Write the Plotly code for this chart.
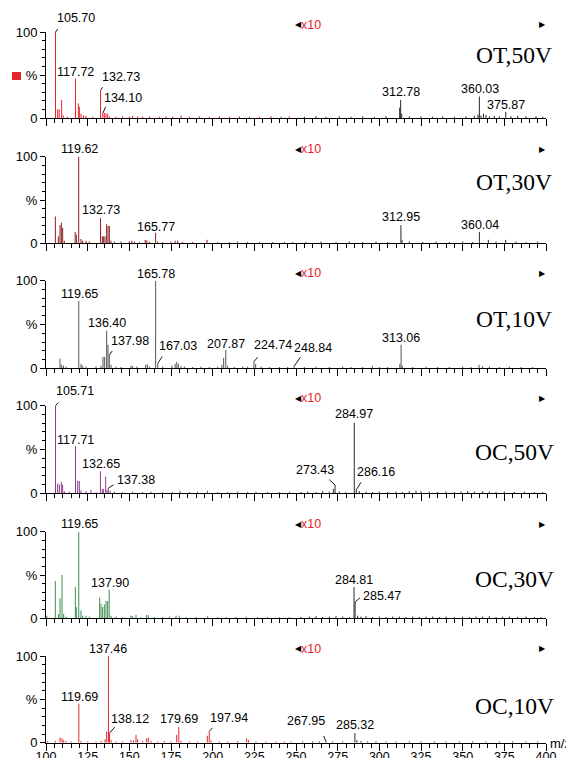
import plotly.graph_objects as go

# ---------------------------------------------------------------- data
panel_names = ["OT,50V", "OT,30V", "OT,10V", "OC,50V", "OC,30V", "OC,10V"]
magnify_from = 250          # m/z above which the trace is shown magnified
magnify_to = 400
magnify_label = "x10"
x_tick_values = [100, 125, 150, 175, 200, 225, 250, 275, 300, 325, 350, 375, 400]
x_tick_labels = [str(v) for v in x_tick_values]
y_tick_values = [0, 50, 100]
y_tick_labels = ["0", "%", "100"]
x_title = "m/z"

# OT,50V
ot50_mz = [105.70, 107.0, 107.9, 109.4, 110.3, 113, 117.72, 119.4, 120.0, 121.0, 122.5, 124.0, 128,
           132.73, 134.10, 135.0, 136.0, 137.0, 138.0, 142, 146, 150, 152, 155, 158, 162, 168, 172,
           176, 181, 186, 192, 198, 204, 210, 216, 222, 228, 235, 241, 246,
           255, 262, 268, 276, 283, 290, 297, 304, 312.2, 312.78, 313.4, 318, 325, 332, 338, 345,
           352, 357, 359.2, 360.03, 361, 362.5, 364, 366, 369, 372, 375.87, 379, 383, 388, 394, 398]
ot50_int = [100, 10, 10, 21, 3, 1.5, 46, 17, 13, 5, 3, 2.5, 1.5,
            32, 5.5, 6, 5.5, 5, 2, 1.5, 2, 2, 2.5, 2, 1.5, 2, 1.5, 2,
            1.5, 3, 1.5, 2, 1.5, 2, 1.5, 2, 1.5, 1.5, 2, 1.5, 2,
            1.5, 2, 1.5, 2, 1.5, 2, 1.5, 2, 12, 21, 5, 2, 2, 1.5, 2, 1.5,
            2, 2.5, 4, 25, 3, 5, 3.5, 2, 2.5, 2, 7, 2, 2.5, 2, 2, 1.5]
ot50_labels = ["105.70", "117.72", "132.73", "134.10", "312.78", "360.03", "375.87"]

# OT,30V
ot30_mz = [105.6, 107.4, 108.4, 109.2, 110.0, 111, 117.5, 118.2, 119.62, 121, 122, 124, 126,
           132.73, 133.8, 134.6, 135.4, 136.4, 137.2, 138.0, 139, 141, 145, 150, 151.5, 153, 156,
           159.5, 160.5, 162, 165.77, 167, 170, 175, 177.5, 179, 182, 188, 196.6, 203, 210, 215,
           221, 228, 236, 243, 248,
           256, 265, 274, 282, 290, 298, 305, 312.95, 313.6, 318, 326, 334, 342, 350, 356,
           360.04, 365.4, 370, 375.8, 382, 388, 395]
ot30_int = [31, 8, 21, 24, 18, 3, 13, 10, 100, 5, 3, 3, 2,
            29, 8, 8, 8, 22, 20, 20, 3, 2, 2, 2.5, 3, 2, 1.5,
            4, 3.5, 2, 12, 2, 1.5, 2, 3, 3, 1.5, 1.5, 4, 1.5, 1.5, 2,
            1.5, 1.5, 1.5, 1.5, 1.5,
            1.5, 2, 1.5, 2, 1.5, 2, 1.5, 21, 4, 2, 1.5, 2, 1.5, 2, 1.5,
            13, 4, 2, 4, 2, 1.5, 2]
ot30_labels = ["119.62", "132.73", "165.77", "312.95", "360.04"]

# OT,10V
ot10_mz = [108.4, 109.4, 110.5, 112, 119.65, 121, 122, 124, 130, 133, 134.2, 135.2, 136.40, 137.2,
           137.98, 139, 142, 145, 151, 152, 154.5, 159.8, 160.8, 162, 165.78, 167.03, 170, 175.5,
           177.5, 178.5, 179.4, 181, 183, 188, 193, 198, 203, 205.5, 206.6, 207.87, 209, 213, 218,
           221, 224.74, 225.8, 229, 234, 240, 245, 248.84,
           255, 262, 270, 278, 283, 290, 295.8, 300, 305, 312.3, 313.06, 313.8, 320, 328, 335,
           342, 350, 355, 359.8, 362, 366, 372, 378, 385, 392]
ot10_int = [11, 4, 3, 2, 77, 5, 3, 2, 2, 3, 13, 13, 43, 27,
            15, 4, 2, 1.5, 3, 2.5, 2, 4, 4.5, 2, 100, 5.7, 2, 3,
            5, 7.5, 5, 2.5, 2, 1.5, 2, 1.5, 2, 4, 12, 21, 3, 1.5, 2,
            2, 7.5, 5, 2, 1.5, 1.5, 1.5, 2.2,
            1.5, 2, 1.5, 2, 1.5, 1.5, 3, 1.5, 1.5, 5, 27, 3, 1.5, 2, 1.5,
            1.5, 2, 1.5, 4, 2.5, 2, 1.5, 2, 1.5, 1.5]
ot10_labels = ["119.65", "136.40", "137.98", "165.78", "167.03", "207.87", "224.74", "248.84",
               "313.06"]

# OC,50V
oc50_mz = [105.71, 107.0, 108.0, 109.2, 110.0, 111, 114, 117.71, 119.0, 120.0, 121, 124, 127, 130,
           132.65, 133.8, 134.4, 135.8, 136.6, 137.38, 138.5, 141, 146, 152, 158, 163, 170, 176,
           180.4, 186, 191, 196.8, 203, 209, 215, 221, 226, 233, 240, 246,
           253, 257, 262, 266, 270, 272.4, 273.43, 276, 280, 284.97, 286.16, 288, 292, 296, 300,
           305, 310, 314, 318, 322, 325, 330, 335, 340, 345, 349, 353, 357, 362, 366, 370, 375,
           381, 387, 393, 398]
oc50_int = [100, 11, 10, 13, 10, 2.5, 2, 54, 14, 14, 3, 2.5, 4, 1.5,
            25, 5, 5, 19, 4, 6, 3, 2, 1.5, 2, 1.5, 2, 1.5, 1.5,
            3, 1.5, 2, 3, 1.5, 1.5, 2, 1.5, 2, 1.5, 1.5, 2,
            1.5, 2, 1.5, 2.5, 2, 5, 9.5, 2, 1.5, 80.6, 4, 2.5, 2, 1.5, 2,
            1.5, 2, 1.5, 2.5, 3, 2.5, 2, 1.5, 2, 1.5, 2, 2.5, 2, 2.5, 2, 1.5, 2,
            1.5, 2, 1.5, 1.5]
oc50_labels = ["105.71", "117.71", "132.65", "137.38", "273.43", "284.97", "286.16"]

# OC,30V
oc30_mz = [100.5, 105.6, 107.4, 108.4, 109.6, 110.6, 112, 117.6, 118.2, 119.65, 121, 122, 124, 126,
           132.2, 133.0, 134.0, 135.0, 136.0, 137.0, 137.90, 139, 142, 146, 151, 152, 154, 157,
           160.4, 161.4, 165, 170, 174, 178, 180, 184, 190, 197, 203, 208, 214, 220, 227, 233,
           240, 246,
           253, 258, 262, 266, 270, 274, 278, 282, 284.81, 285.47, 287, 289, 292, 296, 300, 304,
           308, 312, 316, 320, 324, 328, 332, 336, 340, 345, 350, 354, 358, 362, 366, 370, 374,
           378, 383, 388, 393, 397]
oc30_int = [3, 43, 5, 23, 50, 5, 2, 36, 13, 100, 9, 3, 3, 2,
            24, 17, 13, 16, 20, 20, 33, 3, 2, 1.5, 3, 2.5, 4, 1.5,
            4, 3.5, 1.5, 1.5, 2, 3, 3, 1.5, 1.5, 2.5, 1.5, 1.5, 1.5, 2, 1.5, 1.5,
            1.5, 1.5,
            1.5, 2, 2.5, 1.5, 2, 2.5, 2, 1.5, 36, 19, 3, 2, 2.5, 1.5, 2, 1.5,
            2, 2, 1.5, 2, 1.5, 2, 2, 1.5, 2, 1.5, 2, 1.5, 2, 2, 2.5, 1.5, 2,
            2, 1.5, 2, 1.5, 1.5]
oc30_labels = ["119.65", "137.90", "284.81", "285.47"]

# OC,10V
oc10_mz = [101, 105.6, 108.4, 109.6, 110.6, 112, 115, 119.69, 121, 125, 130, 133, 135.4, 136.4,
           137.46, 138.12, 139, 142, 146, 151, 152.5, 154, 155, 158, 160.4, 161.4, 163, 167, 171,
           175, 178.4, 179.69, 181, 186, 191, 196.8, 197.94, 199, 204, 209, 215, 220.4, 221.5,
           226, 232, 238, 243, 247,
           254, 260, 264, 267.95, 272, 278, 285.32, 286.5, 289, 293, 298, 304, 310, 318, 325,
           333, 340, 348, 356, 364, 372, 380, 388, 395]
oc10_int = [2, 2, 6, 5, 3, 2, 1.5, 45, 2, 1.5, 1.5, 2, 4, 13,
            100, 11, 3, 1.5, 1.5, 3, 2.5, 9, 4, 2, 5, 6, 2, 1.5, 2,
            1.5, 9, 18, 2, 1.5, 1.5, 8, 13, 2.5, 1.5, 1.5, 2, 5, 3,
            1.5, 1.5, 1.5, 1.5, 1.5,
            1.5, 1.5, 1.5, 2, 1.5, 1.5, 11, 3, 2, 1.5, 1.5, 1.5, 1.5, 1.5, 1.5,
            1.5, 1.5, 1.5, 1.5, 1.5, 1.5, 1.5, 1.5, 1.5]
oc10_labels = ["137.46", "119.69", "138.12", "179.69", "197.94", "267.95", "285.32"]

panel_mz = [ot50_mz, ot30_mz, ot10_mz, oc50_mz, oc30_mz, oc10_mz]
panel_int = [ot50_int, ot30_int, ot10_int, oc50_int, oc30_int, oc10_int]
panel_labels = [ot50_labels, ot30_labels, ot10_labels, oc50_labels, oc30_labels, oc10_labels]

# ---------------------------------------------------------------- style
PAGE_W, PAGE_H = 574, 758
BODY = 8                      # default page margin around the plot div
W, H = PAGE_W - BODY, PAGE_H - BODY
ML = 46 - BODY                # plot area starts at page x = 46
MR = PAGE_W - 546             # and ends at page x = 546
SANS = "Liberation Sans, Arial, sans-serif"
SERIF = "Liberation Serif, Times New Roman, serif"
panel_colors = ["#e8242b", "#8a1e1e", "#555555", "#8e3b8e", "#3f8e50", "#e8242b"]
magnified_color = "#2b2b2b"
red = "#e8242b"
# page-pixel rows of the 100 % and 0 % levels of each panel
panel_top_px = [32, 156.7, 280.7, 405.7, 531.7, 656]
panel_bottom_px = [118, 243.3, 368.3, 493.3, 618.3, 742.7]
name_offset_px = [23, 25.3, 38.3, 46.3, 47.3, 50]
name_right_shift = [8, 8, 8, 10, 10, 10]

# label placement: text (xshift, yshift) relative to peak top, optional leader (dx, dy)
label_style = [
    {"105.70": (20, 4.9, (3.4, -4.4)), "117.72": (0, -2.5, None), "132.73": (20.5, 4.5, (3, -4.7)),
     "134.10": (19.7, 5.8, (3.5, -8)), "312.78": (0, -0.8, None), "360.03": (0.5, -1.1, None),
     "375.87": (0, -1.8, None)},
    {"119.62": (0.5, -1.8, None), "132.73": (0.5, -0.9, None), "165.77": (0, -2.8, None),
     "312.95": (0, -1.2, None), "360.04": (0.5, -1.8, None)},
    {"119.65": (0.5, -1.8, None), "136.40": (0.5, -1.8, None), "137.98": (20.4, 4.8, (4, -5.7)),
     "165.78": (0, -2.1, None), "167.03": (20.1, 8.1, (5.6, -8.3)), "207.87": (0, -3.5, None),
     "224.74": (19.4, 7.5, (5, -6)), "248.84": (19.2, 9.2, (7.4, -10.7)),
     "313.06": (0, -2.5, None)},
    {"105.71": (19.9, 5.5, (4, -4.7)), "117.71": (0, -3.2, None), "132.65": (0.5, -1.8, None),
     "137.38": (27.5, -0.9, (6.7, -4)), "273.43": (-19.6, 5.5, (-7.3, -6.7)),
     "284.97": (0, -0.8, None), "286.16": (19.9, 8.8, (5.7, -9))},
    {"119.65": (0.5, -1.1, None), "137.90": (1, -1.9, None), "284.81": (0, -1.9, None),
     "285.47": (26.7, -2.8, (6.3, -5))},
    {"137.46": (0, -1.5, None), "119.69": (0.5, -2.5, None), "138.12": (20.2, 5.5, (6.5, -7.6)),
     "179.69": (0.4, -1.2, None), "197.94": (19.3, 4.9, (4.6, -5)),
     "267.95": (-19.6, 10.8, (-3, -6.5)), "285.32": (0, -1.1, None)},
]

# ---------------------------------------------------------------- figure
fig = go.Figure()
annotations = []
shapes = []
layout = dict(
    width=W, height=H, margin=dict(l=ML, r=MR, t=0, b=0, pad=0, autoexpand=False),
    paper_bgcolor="white", plot_bgcolor="white", showlegend=False,
    font=dict(family=SANS, size=12.5, color="black"),
)


def stems(mz, inten, keep):
    xs, ys = [], []
    for m, v in zip(mz, inten):
        if keep(m):
            xs += [m, m, None]
            ys += [0, v, None]
    return xs, ys


for i in range(6):
    n = i + 1
    xa = "x" if n == 1 else f"x{n}"
    ya = "y" if n == 1 else f"y{n}"
    mz, inten = panel_mz[i], panel_int[i]

    xs, ys = stems(mz, inten, lambda m: m < magnify_from)
    fig.add_trace(go.Scatter(x=xs, y=ys, mode="lines", xaxis=xa, yaxis=ya, hoverinfo="skip",
                             line=dict(color=panel_colors[i], width=1), cliponaxis=False))
    xs, ys = stems(mz, inten, lambda m: m >= magnify_from)
    mcol = panel_colors[i] if i == 2 else magnified_color
    fig.add_trace(go.Scatter(x=xs, y=ys, mode="lines", xaxis=xa, yaxis=ya, hoverinfo="skip",
                             line=dict(color=mcol, width=1), cliponaxis=False))

    d0 = 1 - (panel_bottom_px[i] - BODY) / H
    d1 = 1 - (panel_top_px[i] - BODY) / H
    layout["xaxis" if n == 1 else f"xaxis{n}"] = dict(
        domain=[0, 1], range=[100, 400], anchor=ya, showgrid=False, zeroline=False,
        showline=True, linecolor="black", linewidth=1,
        ticks="outside", tickvals=x_tick_values, ticktext=x_tick_labels, ticklen=7,
        tickwidth=1, tickcolor="black",
        minor=dict(tick0=100, dtick=5, ticks="outside", ticklen=4, tickwidth=1,
                   tickcolor="black"),
        showticklabels=(n == 6), ticklabelstandoff=-5,
        tickfont=dict(family=SANS, size=12.5, color="black"),
        automargin=False, fixedrange=True,
    )
    layout["yaxis" if n == 1 else f"yaxis{n}"] = dict(
        domain=[d0, d1], range=[0, 100], anchor=xa, showgrid=False, zeroline=False,
        showline=True, linecolor="black", linewidth=1,
        ticks="outside", tickvals=y_tick_values, ticktext=y_tick_labels, ticklen=5,
        tickwidth=1, tickcolor="black",
        minor=dict(tick0=0, dtick=10, ticks="outside", ticklen=3, tickwidth=1,
                   tickcolor="black"),
        tickfont=dict(family=SANS, size=13, color="black"), automargin=False, fixedrange=True,
    )

    # peak labels
    for lab in panel_labels[i]:
        m = float(lab)
        k = min(range(len(mz)), key=lambda j: abs(mz[j] - m))
        v = inten[k]
        sx, sy, leader = label_style[i][lab]
        annotations.append(dict(x=mz[k], y=v, xref=xa, yref=ya, text=lab, showarrow=False,
                                xanchor="center", yanchor="bottom", xshift=sx, yshift=sy,
                                font=dict(family=SANS, size=12.5, color="black")))
        if leader:
            annotations.append(dict(x=mz[k], y=v, xref=xa, yref=ya, text="", showarrow=True,
                                    arrowhead=0, arrowwidth=0.9, arrowcolor="black",
                                    ax=leader[0], ay=leader[1], standoff=0, startstandoff=0))

    # magnification markers
    annotations.append(dict(x=magnify_from, y=1, xref=xa, yref=f"{ya} domain", text="◀",
                            showarrow=False, xanchor="left", yanchor="middle", xshift=-2,
                            yshift=7.5, borderpad=0,
                            font=dict(family="DejaVu Sans", size=8, color="black")))
    annotations.append(dict(x=magnify_from, y=1, xref=xa, yref=f"{ya} domain",
                            text=magnify_label, showarrow=False, xanchor="left",
                            yanchor="middle", xshift=4, yshift=7.5, borderpad=0,
                            font=dict(family=SANS, size=12.5, color=red)))
    annotations.append(dict(x=magnify_to, y=1, xref=xa, yref=f"{ya} domain", text="▶",
                            showarrow=False, xanchor="right", yanchor="middle", xshift=1.5,
                            yshift=7.5, font=dict(family="DejaVu Sans", size=8, color="black")))

    # panel name
    annotations.append(dict(x=1, y=1, xref=f"{xa} domain", yref=f"{ya} domain",
                            text=panel_names[i], showarrow=False, xanchor="right",
                            yanchor="middle", xshift=name_right_shift[i],
                            yshift=-name_offset_px[i],
                            font=dict(family=SERIF, size=23.5, color="black")))

# m/z axis title
annotations.append(dict(x=400, y=0, xref="x6", yref="y6 domain", text=x_title, showarrow=False,
                        xanchor="left", yanchor="middle", xshift=3, yshift=-1, borderpad=0,
                        font=dict(family=SANS, size=13, color="black")))

# red legend swatch of the first panel
shapes.append(dict(type="rect", xref="paper", yref="y domain",
                   x0=(12 - 46) / 500, x1=(21 - 46) / 500,
                   y0=(118 - 80) / 86, y1=(118 - 72) / 86,
                   fillcolor=red, line=dict(width=0)))

layout["annotations"] = annotations
layout["shapes"] = shapes
fig.update_layout(**layout)
fig.write_html("out.html", config={"displayModeBar": False})
